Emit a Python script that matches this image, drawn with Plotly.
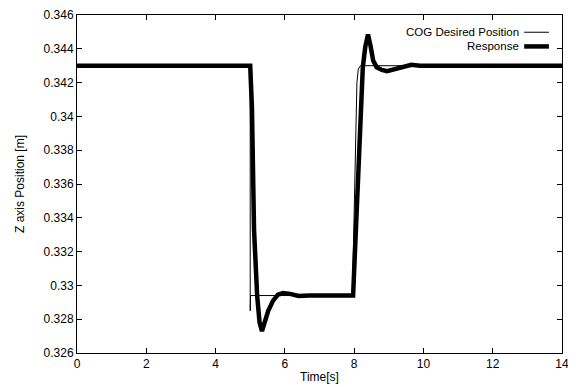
import plotly.graph_objects as go

# Desired COG trajectory (thin line)
desired_t = [0, 5.0, 5.0, 5.01, 7.95, 8.02, 8.08, 8.12, 8.18, 14]
desired_z = [0.343, 0.343, 0.3285, 0.3294, 0.3294, 0.3355, 0.3420, 0.3428, 0.343, 0.343]

# Measured response (thick line)
resp_t = [0, 5.0, 5.05, 5.11, 5.20, 5.27, 5.34, 5.42, 5.52, 5.66, 5.8, 5.95, 6.15, 6.4, 6.7,
          7.97, 8.05, 8.15, 8.25, 8.32, 8.40, 8.47, 8.55, 8.65, 8.8, 8.95, 9.15, 9.4, 9.65, 9.9, 10.2, 14]
resp_z = [0.343, 0.343, 0.3405, 0.3333, 0.3294, 0.3278, 0.3273, 0.3278, 0.3285, 0.3291, 0.32945, 0.32955, 0.3295, 0.32937, 0.3294,
          0.3294, 0.3333, 0.3381, 0.3429, 0.3441, 0.34485, 0.3442, 0.3433, 0.3429, 0.34275, 0.34268, 0.3428, 0.34295, 0.34305, 0.3430, 0.343, 0.343]

x_ticks = [0, 2, 4, 6, 8, 10, 12, 14]
y_ticks = [0.326, 0.328, 0.33, 0.332, 0.334, 0.336, 0.338, 0.34, 0.342, 0.344, 0.346]
y_tick_text = ["0.326", "0.328", "0.33", "0.332", "0.334", "0.336", "0.338", "0.34", "0.342", "0.344", "0.346"]
legend_names = ["COG Desired Position", "Response"]

FONT = "Liberation Sans, Arial, Helvetica, sans-serif"

fig = go.Figure()
fig.add_trace(go.Scatter(x=desired_t, y=desired_z, mode="lines", name=legend_names[0],
                         line=dict(color="#000000", width=1), showlegend=False))
fig.add_trace(go.Scatter(x=resp_t, y=resp_z, mode="lines", name=legend_names[1],
                         line=dict(color="#000000", width=4.5), showlegend=False))

# Gnuplot-style legend: text right-aligned, sample line on the right
leg_y = [0.949, 0.907]
leg_w = [1, 4.5]
for name, yy, w in zip(legend_names, leg_y, leg_w):
    fig.add_annotation(x=0.913, y=yy, xref="paper", yref="paper", text=name, showarrow=False,
                       xanchor="right", yanchor="middle", borderpad=0,
                       font=dict(size=11.5, color="#000000", family=FONT))
    fig.add_shape(type="line", xref="paper", yref="paper", x0=0.922, x1=0.973, y0=yy, y1=yy,
                  line=dict(color="#000000", width=w))

axis_common = dict(showline=True, linecolor="#000000", linewidth=1, mirror="allticks",
                   ticks="inside", ticklen=5, tickcolor="#000000", showgrid=False, zeroline=False,
                   automargin=False,
                   tickfont=dict(size=12, color="#000000", family=FONT))

fig.update_xaxes(range=[0, 14], tickvals=x_ticks, title=dict(text="Time[s]", standoff=2,
                 font=dict(size=12, color="#000000", family=FONT)), **axis_common)
fig.update_yaxes(range=[0.326, 0.346], tickvals=y_ticks, ticktext=y_tick_text,
                 title=dict(text="Z axis Position [m]", standoff=16,
                            font=dict(size=12, color="#000000", family=FONT)), **axis_common)

# The page body has an 8px margin, so the figure is sized/offset to compensate
fig.update_layout(width=568, height=379, margin=dict(l=69, r=14, t=7, b=34),
                  paper_bgcolor="white", plot_bgcolor="white", showlegend=False,
                  font=dict(family=FONT, color="#000000"))

fig.write_html("out.html")
